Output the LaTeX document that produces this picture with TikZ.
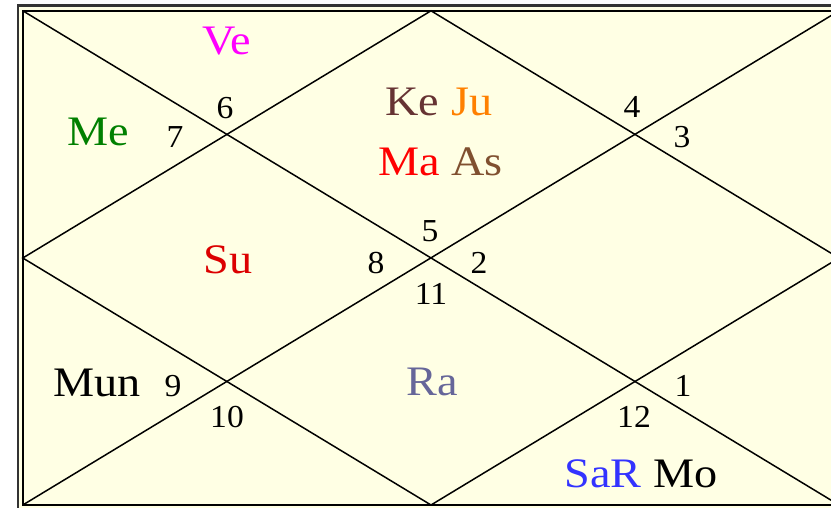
\documentclass[tikz,border=0pt]{standalone}
\usepackage{fontspec}
\setmainfont{Liberation Serif}
\definecolor{bg}{RGB}{255,255,228}
\definecolor{cKe}{RGB}{102,51,51}
\definecolor{cJu}{RGB}{255,128,0}
\definecolor{cMa}{RGB}{255,0,0}
\definecolor{cAs}{RGB}{128,80,48}
\definecolor{cVe}{RGB}{255,0,255}
\definecolor{cMe}{RGB}{0,128,0}
\definecolor{cSu}{RGB}{220,0,0}
\definecolor{cRa}{RGB}{102,102,153}
\definecolor{cSa}{RGB}{51,51,255}
\tikzset{
  planet/.style={anchor=base, inner sep=0pt, xscale=1.1, font=\fontsize{42}{42}\selectfont},
  house/.style={anchor=base, inner sep=0pt, xscale=1.05, font=\fontsize{32}{32}\selectfont},
  chartline/.style={line width=1.5pt, black},
  outerborder/.style={line width=2.5pt, black!80},
  innerborder/.style={line width=1.8pt, black}
}
\begin{document}
\begin{tikzpicture}[x=1pt,y=-1pt]
\useasboundingbox (0,0) rectangle (831,508);
\clip (0,0) rectangle (831,508);
\fill[white] (0,0) rectangle (831,508);
\fill[bg] (18,5.5) rectangle (845,512);
\draw[outerborder] (18,5.5) rectangle (845,512);
\draw[innerborder] (22.8,10.8) rectangle (839,505);
\coordinate (TL) at (22.8,10.8);
\coordinate (TR) at (839,10.8);
\coordinate (BL) at (22.8,505);
\coordinate (BR) at (839,505);
\coordinate (T) at (431,10.8);
\coordinate (B) at (431,505);
\coordinate (L) at (22.8,258);
\coordinate (R) at (839,258);
\draw[chartline] (TL) -- (BR);
\draw[chartline] (BL) -- (TR);
\draw[chartline] (T) -- (R) -- (B) -- (L) -- cycle;
% planets
\node[planet, text=cVe] (ve) at (227,55) {Ve};
\node[planet, text=cMe] (me) at (98,146) {Me};
\node[planet, text=cKe] (ke) at (412,116) {Ke};
\node[planet, text=cJu] (ju) at (472,116) {Ju};
\node[planet, text=cMa] (ma) at (409,176) {Ma};
\node[planet, text=cAs] (as) at (477,176) {As};
\node[planet, text=cSu] (su) at (228,273) {Su};
\node[planet] (mun) at (97,396) {Mun};
\node[planet, text=cRa] (ra) at (432,395) {Ra};
\node[planet, text=cSa] (sar) at (603,487) {SaR};
\node[planet] (mo) at (686,487) {Mo};
% house numbers
\node[house] (h6) at (225,119) {6};
\node[house] (h7) at (175,148) {7};
\node[house] (h4) at (632,118) {4};
\node[house] (h3) at (682,148) {3};
\node[house] (h5) at (430,242) {5};
\node[house] (h8) at (376,273) {8};
\node[house] (h2) at (479,273) {2};
\node[house] (h11) at (431,304) {11};
\node[house] (h9) at (173,396) {9};
\node[house] (h10) at (227,427) {10};
\node[house] (h1) at (683,396) {1};
\node[house] (h12) at (634,427) {12};
\end{tikzpicture}
\end{document}
